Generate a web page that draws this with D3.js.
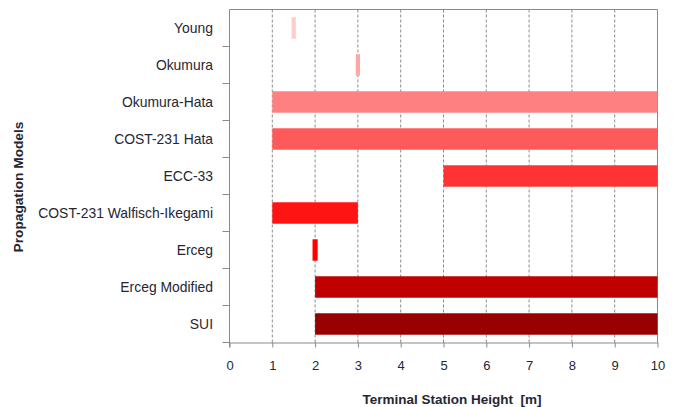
<!DOCTYPE html>
<html>
<head>
<meta charset="utf-8">
<script src="https://cdn.jsdelivr.net/npm/d3@7"></script>
<style>
  html, body { margin: 0; padding: 0; background: #fff; }
  svg { display: block; }
  text { font-family: "Liberation Sans", "DejaVu Sans", sans-serif; white-space: pre; }
</style>
</head>
<body>
<svg id="chart" width="680" height="407"></svg>
<script>
// ---- data ----
const models = ["Young", "Okumura", "Okumura-Hata", "COST-231 Hata", "ECC-33",
  "COST-231 Walfisch-Ikegami", "Erceg", "Erceg Modified", "SUI"];
const rangeStart = [1.45, 2.95, 1, 1, 5, 1, 1.94, 2, 2];
const rangeEnd   = [1.55, 3.05, 10, 10, 10, 3, 2.06, 10, 10];
const barColors  = ["#FFCCCC", "#FFA6A6", "#FF8080", "#FF5A5A", "#FF3333",
  "#FF1414", "#FF0000", "#C00000", "#990000"];
const xTicks = [0, 1, 2, 3, 4, 5, 6, 7, 8, 9, 10];
const xTitle = "Terminal Station Height  [m]";
const yTitle = "Propagation Models";

// ---- layout ----
const svg = d3.select("#chart");
const m = { left: 229.5, right: 657.5, top: 9.5, bottom: 342.5 };

const x = d3.scaleLinear().domain([0, 10]).range([m.left, m.right]);
const y = d3.scaleBand().domain(models).range([m.top, m.bottom]).paddingInner(0.42).paddingOuter(0.21);
const yStep = d3.scaleBand().domain(models).range([m.top, m.bottom]);

const axisColor = "#8a8a8a";
const textColor = "#262633";

// gridlines
svg.append("g").selectAll("line")
  .data(xTicks.filter(d => d > 0 && d < 10))
  .join("line")
  .attr("x1", d => x(d)).attr("x2", d => x(d))
  .attr("y1", m.top).attr("y2", m.bottom)
  .attr("stroke", "#8c8c8c").attr("stroke-width", 1)
  .attr("stroke-dasharray", "3,2");

// frame top/right
svg.append("line").attr("x1", m.left).attr("x2", m.right).attr("y1", m.top).attr("y2", m.top)
  .attr("stroke", axisColor);
svg.append("line").attr("x1", m.right).attr("x2", m.right).attr("y1", m.top).attr("y2", m.bottom)
  .attr("stroke", axisColor);

// bars
const idx = d3.range(models.length);
svg.append("g").selectAll("rect")
  .data(idx)
  .join("rect")
  .attr("x", i => x(rangeStart[i]))
  .attr("width", i => x(rangeEnd[i]) - x(rangeStart[i]))
  .attr("y", i => y(models[i]))
  .attr("height", y.bandwidth())
  .attr("fill", i => barColors[i]);

// x axis
const xAxis = svg.append("g").attr("transform", `translate(0,${m.bottom})`)
  .call(d3.axisBottom(x).tickValues(xTicks).tickFormat(d3.format("d")).tickSizeInner(5).tickSizeOuter(0).tickPadding(13));
xAxis.select(".domain").attr("stroke", axisColor);
xAxis.selectAll(".tick line").attr("stroke", axisColor);
xAxis.selectAll(".tick text").attr("fill", textColor).style("font-size", "13px");

// y axis: ticks at category boundaries
const yAxisG = svg.append("g");
yAxisG.append("line").attr("x1", m.left).attr("x2", m.left).attr("y1", m.top).attr("y2", m.bottom + 5)
  .attr("stroke", axisColor);
yAxisG.selectAll("line.tk")
  .data(models)
  .join("line").attr("class", "tk")
  .attr("x1", m.left - 7).attr("x2", m.left)
  .attr("y1", d => yStep(d) + yStep.step()).attr("y2", d => yStep(d) + yStep.step())
  .attr("stroke", axisColor);
yAxisG.selectAll("text")
  .data(models)
  .join("text")
  .attr("x", 213)
  .attr("y", d => yStep(d) + yStep.bandwidth() / 2)
  .attr("dy", "0.35em")
  .attr("text-anchor", "end")
  .attr("fill", textColor)
  .style("font-size", "13.9px")
  .text(d => d);

// titles
svg.append("text")
  .attr("x", 452).attr("y", 404)
  .attr("text-anchor", "middle")
  .attr("fill", textColor)
  .style("font-size", "13.5px").style("font-weight", "bold")
  .text(xTitle);
svg.append("text")
  .attr("transform", "translate(23,187) rotate(-90)")
  .attr("text-anchor", "middle")
  .attr("fill", textColor)
  .style("font-size", "13.7px").style("font-weight", "bold")
  .text(yTitle);
</script>
</body>
</html>
